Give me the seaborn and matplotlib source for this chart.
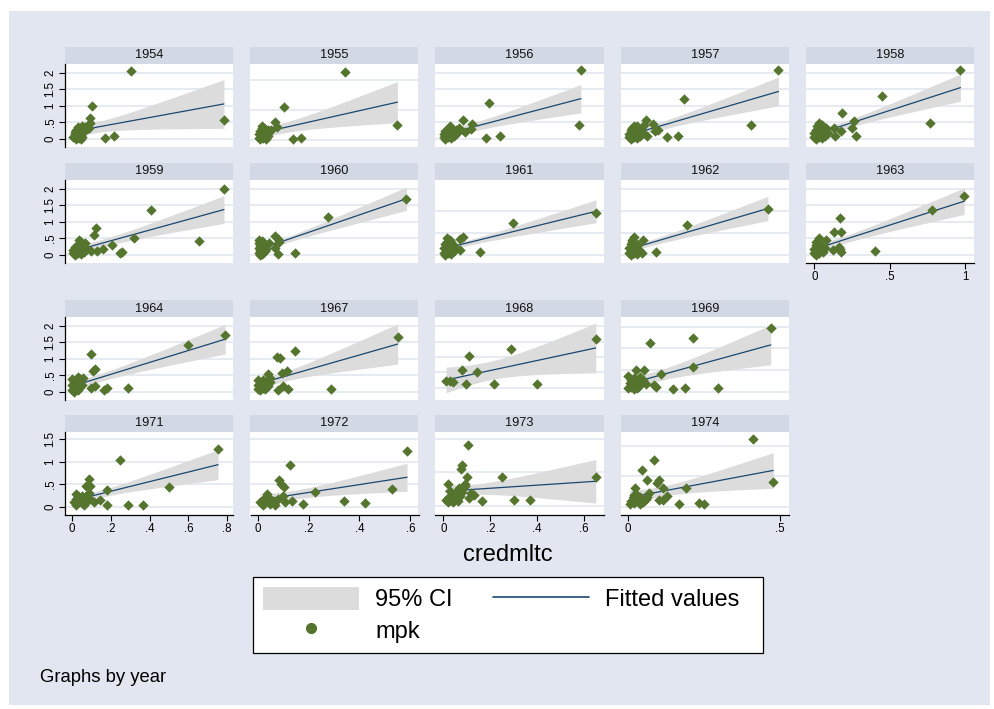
import numpy as np
import matplotlib
matplotlib.use("Agg")
import matplotlib.pyplot as plt
from matplotlib.patches import Rectangle, Patch
from matplotlib.lines import Line2D
from matplotlib.ticker import FuncFormatter
import seaborn as sns

# credmltc (x) and mpk (y) by year
x54 = [0.38, 0.127, 0.112, 0.112, 0.107, 0.21, 0.27, 1.0,
       0.0, 0.01, 0.02, 0.02, 0.03, 0.03, 0.04, 0.04, 0.05, 0.05, 0.06, 0.06, 0.07, 0.08, 0.09, 0.01, 0.03, 0.05]
y54 = [2.05, 0.99, 0.63, 0.48, 0.33, 0.02, 0.08, 0.57,
       0.05, 0.15, 0.0, 0.28, 0.1, 0.36, 0.02, 0.22, 0.33, 0.12, 0.05, 0.38, 0.25, 0.35, 0.3, 0.2, 0.08, 0.0]
x55 = [0.57, 0.17, 0.92, 0.23, 0.28, 0.105, 0.118, 0.083, 0.07,
       0.0, 0.0, 0.01, 0.01, 0.02, 0.02, 0.03, 0.03, 0.04, 0.04, 0.05, 0.05, 0.06, 0.02, 0.04, 0.06]
y55 = [2.26, 1.11, 0.51, 0.05, 0.08, 0.59, 0.44, 0.34, 0.27,
       0.08, 0.19, 0.03, 0.3, 0.14, 0.41, 0.08, 0.25, 0.16, 0.36, 0.05, 0.23, 0.14, 0.47, 0.12, 0.34]
x56 = [0.91, 0.9, 0.3, 0.28, 0.37, 0.13, 0.19, 0.18, 0.14, 0.1,
       0.0, 0.0, 0.01, 0.01, 0.02, 0.02, 0.03, 0.03, 0.04, 0.05, 0.05, 0.06, 0.07, 0.08, 0.09, 0.04]
y56 = [2.07, 0.42, 1.1, 0.03, 0.1, 0.56, 0.46, 0.31, 0.21, 0.34,
       0.05, 0.14, 0.0, 0.24, 0.09, 0.28, 0.05, 0.17, 0.11, 0.33, 0.02, 0.21, 0.09, 0.28, 0.19, 0.39]
x57 = [0.99, 0.81, 0.365, 0.25, 0.32, 0.11, 0.16, 0.19, 0.17, 0.12,
       0.0, 0.0, 0.01, 0.01, 0.02, 0.02, 0.03, 0.03, 0.04, 0.05, 0.05, 0.06, 0.07, 0.08, 0.09, 0.1, 0.03]
y57 = [2.07, 0.42, 1.22, 0.07, 0.09, 0.56, 0.46, 0.28, 0.24, 0.09,
       0.05, 0.14, 0.0, 0.26, 0.09, 0.33, 0.05, 0.19, 0.11, 0.38, 0.02, 0.24, 0.09, 0.3, 0.17, 0.42, 0.39]
x58 = [0.97, 0.77, 0.45, 0.185, 0.265, 0.25, 0.28, 0.18, 0.14, 0.13,
       0.0, 0.0, 0.01, 0.01, 0.02, 0.02, 0.03, 0.03, 0.04, 0.05, 0.05, 0.06, 0.07, 0.08, 0.09, 0.03]
y58 = [2.07, 0.49, 1.29, 0.78, 0.54, 0.32, 0.09, 0.24, 0.09, 0.34,
       0.05, 0.17, 0.0, 0.28, 0.09, 0.38, 0.05, 0.21, 0.14, 0.42, 0.02, 0.26, 0.09, 0.33, 0.19, 0.47]
x59 = [1.0, 0.835, 0.515, 0.405, 0.26, 0.31, 0.32, 0.195, 0.155, 0.12, 0.15, 0.135,
       0.0, 0.0, 0.01, 0.01, 0.02, 0.02, 0.03, 0.03, 0.04, 0.05, 0.05, 0.06, 0.07, 0.08, 0.09, 0.04]
y59 = [1.99, 0.42, 1.36, 0.52, 0.3, 0.05, 0.09, 0.18, 0.11, 0.11, 0.81, 0.59,
       0.05, 0.15, 0.0, 0.25, 0.1, 0.2, 0.05, 0.3, 0.12, 0.4, 0.02, 0.22, 0.1, 0.35, 0.18, 0.45]
x60 = [0.98, 0.46, 0.24, 0.13, 0.11, 0.107, 0.13, 0.135, 0.065,
       0.0, 0.0, 0.0, 0.01, 0.01, 0.01, 0.02, 0.02, 0.03, 0.03, 0.04, 0.04, 0.05, 0.02, 0.0, 0.03]
y60 = [1.7, 1.16, 0.07, 0.02, 0.22, 0.57, 0.47, 0.39, 0.37,
       0.05, 0.2, 0.35, 0.0, 0.15, 0.3, 0.1, 0.42, 0.05, 0.25, 0.12, 0.32, 0.18, 0.02, 0.45, 0.38]
x61 = [1.01, 0.46, 0.24, 0.127, 0.11, 0.11,
       0.0, 0.0, 0.01, 0.01, 0.02, 0.02, 0.03, 0.03, 0.04, 0.04, 0.05, 0.06, 0.07, 0.08, 0.02, 0.05]
y61 = [0.96, 0.72, 0.06, 0.4, 0.36, 0.12,
       0.05, 0.15, 0.0, 0.25, 0.1, 0.3, 0.05, 0.2, 0.12, 0.35, 0.02, 0.22, 0.1, 0.15, 0.38, 0.3]
x62 = [0.92, 0.38, 0.18, 0.09, 0.03, 0.085,
       0.0, 0.0, 0.01, 0.01, 0.02, 0.02, 0.03, 0.03, 0.04, 0.05, 0.06, 0.07, 0.02, 0.04]
y62 = [1.04, 0.69, 0.06, 0.33, 0.41, 0.04,
       0.05, 0.15, 0.0, 0.25, 0.1, 0.3, 0.05, 0.2, 0.12, 0.02, 0.22, 0.1, 0.35, 0.28]
x63 = [0.995, 0.78, 0.4, 0.17, 0.13, 0.18, 0.165, 0.18, 0.17, 0.125, 0.07, 0.033, 0.077,
       0.0, 0.0, 0.01, 0.01, 0.02, 0.02, 0.03, 0.03, 0.04, 0.05, 0.06, 0.01, 0.04]
y63 = [1.79, 1.35, 0.12, 1.12, 0.69, 0.69, 0.25, 0.1, 0.17, 0.15, 0.2, 0.5, 0.45,
       0.05, 0.18, 0.0, 0.3, 0.1, 0.22, 0.05, 0.35, 0.12, 0.25, 0.08, 0.4, 0.3]
x64 = [0.79, 0.6, 0.29, 0.1, 0.11, 0.12, 0.165, 0.18, 0.1, 0.12, 0.04, 0.055, 0.03, 0.05,
       0.0, 0.0, 0.01, 0.01, 0.02, 0.02, 0.03, 0.03, 0.04, 0.0, 0.02]
y64 = [1.72, 1.43, 0.11, 1.15, 0.63, 0.68, 0.05, 0.11, 0.11, 0.18, 0.38, 0.41, 0.45, 0.21,
       0.05, 0.2, 0.0, 0.3, 0.1, 0.35, 0.05, 0.22, 0.15, 0.38, 0.12]
x67 = [0.55, 0.29, 0.147, 0.075, 0.088, 0.114, 0.094, 0.12, 0.08, 0.1, 0.04, 0.05,
       0.0, 0.0, 0.01, 0.01, 0.02, 0.02, 0.03, 0.03, 0.04, 0.05, 0.0, 0.02]
y67 = [1.65, 0.08, 1.25, 1.07, 1.04, 0.63, 0.58, 0.08, 0.05, 0.18, 0.53, 0.43,
       0.08, 0.22, 0.05, 0.3, 0.12, 0.35, 0.1, 0.25, 0.18, 0.3, 0.35, 0.15]
x68 = [0.65, 0.29, 0.107, 0.08, 0.144, 0.097, 0.216, 0.4, 0.011, 0.029, 0.04]
y68 = [1.6, 1.25, 1.04, 0.57, 0.5, 0.11, 0.11, 0.11, 0.22, 0.22, 0.2]
x69 = [0.47, 0.215, 0.072, 0.213, 0.108, 0.149, 0.188, 0.296, 0.092, 0.086, 0.058, 0.025, 0.053,
       0.0, 0.005, 0.01, 0.01, 0.02, 0.02, 0.03, 0.03, 0.04, 0.04, 0.05, 0.0, 0.02, 0.035]
y69 = [1.47, 1.23, 1.12, 0.57, 0.41, 0.06, 0.08, 0.08, 0.12, 0.15, 0.18, 0.5, 0.5,
       0.08, 0.19, 0.12, 0.27, 0.15, 0.31, 0.09, 0.23, 0.17, 0.35, 0.27, 0.37, 0.06, 0.14]
x71 = [0.753, 0.5, 0.25, 0.183, 0.183, 0.287, 0.368, 0.143, 0.112, 0.086, 0.074, 0.092, 0.088,
       0.074, 0.092, 0.04, 0.057, 0.022, 0.036,
       0.01, 0.02, 0.02, 0.03, 0.04, 0.05, 0.05, 0.06, 0.07, 0.07, 0.08, 0.03, 0.06]
y71 = [1.29, 0.435, 1.03, 0.37, 0.05, 0.05, 0.05, 0.15, 0.1, 0.62, 0.47, 0.46, 0.31,
       0.25, 0.17, 0.135, 0.21, 0.285, 0.21,
       0.1, 0.05, 0.18, 0.12, 0.2, 0.08, 0.25, 0.15, 0.22, 0.1, 0.18, 0.24, 0.05]
x72 = [0.587, 0.528, 0.42, 0.34, 0.226, 0.18, 0.127, 0.134, 0.085, 0.09, 0.104, 0.1, 0.08,
       0.108, 0.035, 0.062, 0.05,
       0.01, 0.02, 0.02, 0.03, 0.04, 0.05, 0.05, 0.06, 0.07, 0.03]
y72 = [1.24, 0.4, 0.08, 0.13, 0.34, 0.06, 0.92, 0.135, 0.6, 0.51, 0.435, 0.25, 0.17,
       0.1, 0.285, 0.135, 0.06,
       0.1, 0.05, 0.15, 0.12, 0.2, 0.08, 0.17, 0.12, 0.05, 0.2]
x73 = [0.104, 0.08, 0.076, 0.1, 0.094, 0.09, 0.25, 0.65, 0.021, 0.029, 0.066, 0.119, 0.129,
       0.111, 0.166, 0.3, 0.37,
       0.01, 0.02, 0.02, 0.03, 0.04, 0.05, 0.05, 0.06, 0.07, 0.08, 0.04]
y73 = [0.9, 0.6, 0.54, 0.43, 0.33, 0.29, 0.43, 0.435, 0.33, 0.22, 0.26, 0.185, 0.16,
       0.12, 0.07, 0.085, 0.085,
       0.08, 0.06, 0.12, 0.08, 0.15, 0.1, 0.185, 0.07, 0.14, 0.205, 0.06]
x74 = [0.41, 0.478, 0.086, 0.047, 0.062, 0.097, 0.103, 0.114, 0.19, 0.128, 0.103, 0.114, 0.169,
       0.235, 0.25, 0.023, 0.02, 0.07, 0.064, 0.056,
       0.005, 0.01, 0.02, 0.02, 0.03, 0.04, 0.04, 0.05, 0.06, 0.03]
y74 = [1.12, 0.41, 0.77, 0.6, 0.43, 0.39, 0.44, 0.31, 0.31, 0.17, 0.1, 0.11, 0.04,
       0.06, 0.045, 0.3, 0.19, 0.23, 0.16, 0.1,
       0.045, 0.09, 0.06, 0.15, 0.1, 0.045, 0.16, 0.075, 0.13, 0.19]

years = [1954, 1955, 1956, 1957, 1958, 1959, 1960, 1961, 1962, 1963,
         1964, 1967, 1968, 1969, 1971, 1972, 1973, 1974]
xs = [x54, x55, x56, x57, x58, x59, x60, x61, x62, x63, x64, x67, x68, x69, x71, x72, x73, x74]
ys = [y54, y55, y56, y57, y58, y59, y60, y61, y62, y63, y64, y67, y68, y69, y71, y72, y73, y74]

# y axis range and ticks of every panel (each panel has its own scale)
ylims = [(-0.245, 2.265), (-0.23, 2.53), (-0.245, 2.265), (-0.245, 2.265), (-0.245, 2.265),
         (-0.245, 2.265), (-0.245, 2.265), (-0.18, 1.7), (-0.18, 1.7), (-0.245, 2.265),
         (-0.245, 2.265), (-0.245, 2.265), (-0.4, 2.3), (-0.19, 1.72),
         (-0.18, 1.66), (-0.18, 1.66), (-0.14, 1.1), (-0.14, 1.23)]
yticks = [[0, 0.5, 1, 1.5, 2], [0, 1, 2], [0, 0.5, 1, 1.5, 2], [0, 0.5, 1, 1.5, 2], [0, 0.5, 1, 1.5, 2],
          [0, 0.5, 1, 1.5, 2], [0, 0.5, 1, 1.5, 2], [0, 0.5, 1], [0, 0.5, 1, 1.5], [0, 0.5, 1, 1.5, 2],
          [0, 0.5, 1, 1.5, 2], [0, 0.5, 1, 1.5, 2], [0, 0.5, 1, 1.5, 2], [0, 0.5, 1, 1.5],
          [0, 0.5, 1, 1.5], [0, 0.5, 1, 1.5], [0, 0.5, 1], [0, 0.5, 1]]
xticks_1963 = [0, 0.5, 1]
xticks_bottom = [[0, 0.2, 0.4, 0.6, 0.8], [0, 0.2, 0.4, 0.6], [0, 0.2, 0.4, 0.6], [0, 0.5]]
xlims_bottom = [(-0.036, 0.83), (-0.028, 0.632), (-0.034, 0.683), (-0.023, 0.53)]
xlim_top = (-0.055, 1.06)

W, H = 995, 709
navy = '#1a476f'
green = '#55752f'
ci_grey = '#dcdcdc'
bg = '#e1e6f0'
strip_col = '#d3d9e4'
grid_col = '#e2e7f0'

sns.set_theme(style="white")
plt.rcParams['font.family'] = ['Liberation Sans', 'DejaVu Sans']
plt.rcParams['text.color'] = 'black'
plt.rcParams['xtick.color'] = 'black'
plt.rcParams['ytick.color'] = 'black'


def stata_fmt(v, pos):
    s = f"{v:g}"
    if s.startswith("0."):
        s = s[1:]
    return s


def t975(df):
    # Cornish-Fisher expansion of Student t 97.5% quantile
    z = 1.959964
    return (z + (z**3 + z) / (4 * df) + (5 * z**5 + 16 * z**3 + 3 * z) / (96 * df**2)
            + (3 * z**7 + 19 * z**5 + 17 * z**3 - 15 * z) / (384 * df**3))


def lfitci(x, y):
    # linear fit with 95% CI of the mean prediction, like Stata lfitci
    x = np.asarray(x, float)
    y = np.asarray(y, float)
    n = len(x)
    b, a = np.polyfit(x, y, 1)
    res = y - (a + b * x)
    s2 = (res ** 2).sum() / (n - 2)
    sxx = ((x - x.mean()) ** 2).sum()
    xg = np.linspace(x.min(), x.max(), 100)
    fit = a + b * xg
    se = np.sqrt(s2 * (1 / n + (xg - x.mean()) ** 2 / sxx))
    t = t975(n - 2)
    return xg, fit, fit - t * se, fit + t * se


fig = plt.figure(figsize=(W / 100, H / 100), dpi=100)
fig.patch.set_facecolor('white')
fig.patches.append(Rectangle((9 / W, 4 / H), 981 / W, 694 / H, transform=fig.transFigure,
                             facecolor=bg, edgecolor='none', zorder=-10))

col_left = [65, 250.5, 435.5, 621, 806]
panel_w = 168
strip_h = 17
plot_h = 83
row_top = [47, 163, 300, 415]

for i, (yr, x, y) in enumerate(zip(years, xs, ys)):
    if i < 10:
        col, row = i % 5, i // 5
        xlim = xlim_top
    else:
        col, row = (i - 10) % 4, 2 + (i - 10) // 4
        xlim = xlims_bottom[col]

    l = col_left[col]
    t = row_top[row]
    sax = fig.add_axes([l / W, 1 - (t + strip_h) / H, panel_w / W, strip_h / H])
    sax.set_facecolor(strip_col)
    sax.set_xticks([])
    sax.set_yticks([])
    for s in sax.spines.values():
        s.set_visible(False)
    sax.text(0.5, 0.5, str(yr), ha='center', va='center', fontsize=9.2, color='#111111')

    ax = fig.add_axes([l / W, 1 - (t + strip_h + plot_h) / H, panel_w / W, plot_h / H])
    ax.set_facecolor('white')
    xg, fit, lo, hi = lfitci(x, y)
    ax.fill_between(xg, lo, hi, color=ci_grey, lw=0, zorder=1.5)
    sns.lineplot(x=xg, y=fit, ax=ax, color=navy, lw=0.9, zorder=2)
    sns.scatterplot(x=x, y=y, ax=ax, marker='D', s=28, color=green, linewidth=0, zorder=3)

    ax.set_xlim(*xlim)
    ax.set_ylim(*ylims[i])
    ax.set_xlabel('')
    ax.set_ylabel('')
    ax.set_yticks(yticks[i])
    ax.set_axisbelow(True)
    ax.yaxis.grid(True, color=grid_col, lw=1.2)
    ax.xaxis.grid(False)
    for s in ax.spines.values():
        s.set_visible(False)

    if col == 0:
        ax.spines['left'].set_visible(True)
        ax.spines['left'].set_color('black')
        ax.spines['left'].set_linewidth(0.9)
        ax.yaxis.set_major_formatter(FuncFormatter(stata_fmt))
        ax.tick_params(axis='y', left=True, length=4, width=0.8, color='black',
                       labelsize=8.3, pad=2)
        for lab in ax.get_yticklabels():
            lab.set_rotation(90)
            lab.set_va('center')
    else:
        ax.tick_params(axis='y', left=False, labelleft=False)

    show_x = (yr == 1963) or row == 3
    if show_x:
        ax.set_xticks(xticks_1963 if yr == 1963 else xticks_bottom[col])
        ax.xaxis.set_major_formatter(FuncFormatter(stata_fmt))
        ax.spines['bottom'].set_visible(True)
        ax.spines['bottom'].set_color('black')
        ax.spines['bottom'].set_linewidth(0.9)
        ax.tick_params(axis='x', bottom=True, length=4, width=0.8, color='black',
                       labelsize=8.3, pad=2)
    else:
        ax.set_xticks([])

fig.text(508 / W, 1 - 555 / H, 'credmltc', ha='center', va='center', fontsize=17)
fig.text(40 / W, 1 - 677 / H, 'Graphs by year', ha='left', va='center', fontsize=13.3)

handles = [Patch(facecolor=ci_grey, edgecolor='none'),
           Line2D([], [], ls='none', marker='o', color=green, ms=7),
           Line2D([], [], color=navy, lw=1.2)]
labels = ['95% CI', 'mpk', 'Fitted values  ']
leg = fig.legend(handles, labels, ncol=2, loc='center', bbox_to_anchor=(508 / W, 1 - 615 / H),
                 frameon=True, fancybox=False, edgecolor='black', facecolor='white',
                 fontsize=17, handlelength=4.07, handleheight=1.1, handletextpad=0.68,
                 columnspacing=1.7, borderpad=0.42, labelspacing=0.3, framealpha=1)
leg.get_frame().set_linewidth(0.9)

fig.savefig('out.png', dpi=100)
